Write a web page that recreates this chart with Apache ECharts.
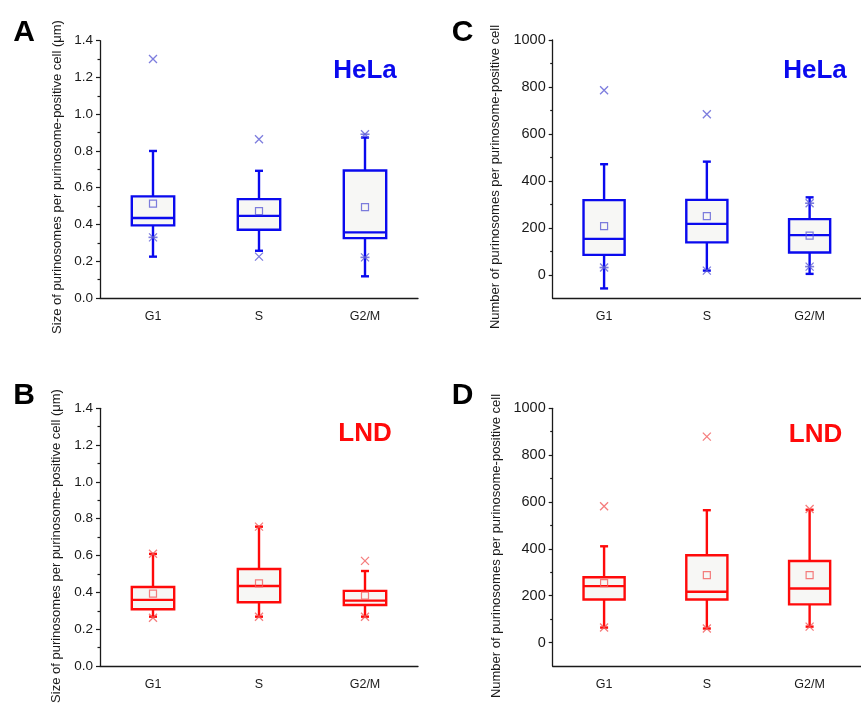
<!DOCTYPE html>
<html>
<head>
<meta charset="utf-8">
<script src="https://cdn.jsdelivr.net/npm/echarts@6/dist/echarts.min.js"></script>
<style>
  html, body { margin: 0; padding: 0; background: #fff; }
  #chart { width: 861px; height: 717px; }
</style>
</head>
<body>
<div id="chart"></div>
<script>
const categories = ['G1', 'S', 'G2/M']
const countTicks = [0, 200, 400, 600, 800, 1000]
const countMinorTicks = [100, 300, 500, 700, 900]

// box = [whisker low, Q1, median, Q3, whisker high]
const helaSizeBox = [[0.225, 0.395, 0.435, 0.553, 0.80], [0.257, 0.371, 0.447, 0.538, 0.692], [0.118, 0.326, 0.357, 0.694, 0.873]]
const helaSizeMean = [0.513, 0.473, 0.495]
const helaSizeCross = [[1.30, 0.33], [0.864, 0.225], [0.891, 0.221]]
const helaSizeDash = [[0.33], [], [0.891, 0.221]]

const lndSizeBox = [[0.268, 0.308, 0.359, 0.429, 0.609], [0.268, 0.346, 0.435, 0.527, 0.757], [0.268, 0.331, 0.355, 0.408, 0.516]]
const lndSizeMean = [0.393, 0.449, 0.382]
const lndSizeCross = [[0.61, 0.262], [0.757, 0.268], [0.571, 0.268]]
const lndSizeDash = [[], [], []]

const helaCountBox = [[-58, 85, 153, 318, 471], [18, 138, 217, 319, 482], [4, 95, 169, 237, 330]]
const helaCountMean = [207, 250, 167]
const helaCountCross = [[786, 31], [684, 18], [305, 35]]
const helaCountDash = [[31], [], [305, 35]]

const lndCountBox = [[64, 184, 241, 279, 411], [60, 184, 217, 373, 565], [68, 163, 231, 348, 567]]
const lndCountMean = [254, 288, 288]
const lndCountCross = [[582, 64], [879, 60], [570, 68]]
const lndCountDash = [[], [], []]

const BLUE = '#0a0aee'
const BLUE_MARK = '#5c5cd6'
const RED = '#ff0a0a'
const RED_MARK = '#f25c5c'
const FONT = 'Arial, "Liberation Sans", sans-serif'

function renderBox (color) {
  return function (params, api) {
    const i = api.value(0)
    const lo = api.coord([i, api.value(1)])
    const q1 = api.coord([i, api.value(2)])
    const md = api.coord([i, api.value(3)])
    const q3 = api.coord([i, api.value(4)])
    const hi = api.coord([i, api.value(5)])
    const hw = api.size([1, 0])[0] * 0.2
    const cw = 4
    const cx = lo[0]
    const ls = { stroke: color, lineWidth: 2.4 }
    return {
      type: 'group',
      children: [
        { type: 'line', shape: { x1: cx, y1: q3[1], x2: cx, y2: hi[1] }, style: ls },
        { type: 'line', shape: { x1: cx, y1: q1[1], x2: cx, y2: lo[1] }, style: ls },
        { type: 'line', shape: { x1: cx - cw, y1: hi[1], x2: cx + cw, y2: hi[1] }, style: ls },
        { type: 'line', shape: { x1: cx - cw, y1: lo[1], x2: cx + cw, y2: lo[1] }, style: ls },
        { type: 'rect', shape: { x: cx - hw, y: q3[1], width: 2 * hw, height: q1[1] - q3[1] }, style: { fill: '#f7f7f5', stroke: color, lineWidth: 2.4 } },
        { type: 'line', shape: { x1: cx - hw, y1: md[1], x2: cx + hw, y2: md[1] }, style: ls }
      ]
    }
  }
}

function points (lists) {
  const out = []
  lists.forEach((vals, i) => vals.forEach(v => out.push([i, v])))
  return out
}

function panelSeries (gi, yi, box, mean, cross, dash, color, mark) {
  return [
    {
      type: 'custom',
      xAxisIndex: gi,
      yAxisIndex: yi,
      renderItem: renderBox(color),
      encode: { x: 0, y: [1, 2, 3, 4, 5] },
      data: box.map((b, i) => [i].concat(b)),
      z: 2
    },
    {
      type: 'scatter',
      xAxisIndex: gi,
      yAxisIndex: yi,
      symbol: 'rect',
      symbolSize: 7,
      itemStyle: { color: 'rgba(0,0,0,0)', borderColor: mark, borderWidth: 1.2 },
      data: mean.map((v, i) => [i, v]),
      z: 4
    },
    {
      type: 'scatter',
      xAxisIndex: gi,
      yAxisIndex: yi,
      symbol: 'path://M0,0L10,10M10,0L0,10',
      symbolSize: 8,
      itemStyle: { color: 'rgba(0,0,0,0)', borderColor: mark, borderWidth: 1.3 },
      data: points(cross),
      z: 5
    },
    {
      type: 'scatter',
      xAxisIndex: gi,
      yAxisIndex: yi,
      symbol: 'rect',
      symbolSize: [9, 1.6],
      itemStyle: { color: mark },
      data: points(dash),
      z: 5
    }
  ]
}

const grids = [
  { left: 100, top: 40.7, width: 318, height: 257.3 },
  { left: 100, top: 408.3, width: 318, height: 257.7 },
  { left: 552.7, top: 40, width: 318, height: 258.3 },
  { left: 552.7, top: 408.3, width: 318, height: 257.7 }
]

const axisLine = { show: true, onZero: false, lineStyle: { color: '#1a1a1a', width: 1.3 } }

const xAxes = grids.map((g, i) => ({
  type: 'category',
  gridIndex: i,
  data: categories,
  boundaryGap: true,
  axisLine: axisLine,
  axisTick: { show: false },
  axisLabel: { color: '#1a1a1a', fontSize: 12.5, fontFamily: FONT, margin: 12 },
  splitLine: { show: false }
}))

function sizeAxis (gi) {
  return {
    type: 'value',
    gridIndex: gi,
    min: 0,
    max: 1.4,
    interval: 0.2,
    axisLine: axisLine,
    axisTick: { show: true, length: 4, lineStyle: { color: '#1a1a1a', width: 1.2 } },
    minorTick: { show: true, splitNumber: 2, length: 2.5, lineStyle: { color: '#1a1a1a', width: 1.2 } },
    axisLabel: { color: '#1a1a1a', fontSize: 13.5, fontFamily: FONT, margin: 7, formatter: v => v.toFixed(1) },
    splitLine: { show: false },
    minorSplitLine: { show: false }
  }
}

function countAxis (gi) {
  return {
    type: 'value',
    gridIndex: gi,
    min: -100,
    max: 1000,
    axisLine: axisLine,
    axisTick: { show: true, length: 4, customValues: countTicks, lineStyle: { color: '#1a1a1a', width: 1.2 } },
    axisLabel: { color: '#1a1a1a', fontSize: 14.5, fontFamily: FONT, margin: 7, customValues: countTicks, formatter: v => String(v) },
    splitLine: { show: false }
  }
}

function countMinorAxis (gi) {
  return {
    type: 'value',
    gridIndex: gi,
    position: 'left',
    min: -100,
    max: 1000,
    axisLine: { show: false },
    axisTick: { show: true, length: 2.5, customValues: countMinorTicks, lineStyle: { color: '#1a1a1a', width: 1.2 } },
    axisLabel: { show: false },
    splitLine: { show: false }
  }
}

const yAxes = [sizeAxis(0), sizeAxis(1), countAxis(2), countMinorAxis(2), countAxis(3), countMinorAxis(3)]

function label (text, x, y, size, color, rot) {
  return {
    type: 'text',
    x: x,
    y: y,
    rotation: rot || 0,
    style: {
      text: text,
      fill: color,
      font: (size > 16 ? 'bold ' : '') + size + 'px ' + FONT,
      align: 'center',
      verticalAlign: 'middle'
    },
    z: 10
  }
}

const sizeTitle = 'Size of purinosomes per purinosome-positive cell (μm)'
const countTitle = 'Number of purinosomes per purinosome-positive cell'

const chart = echarts.init(document.getElementById('chart'))
chart.setOption({
  backgroundColor: '#ffffff',
  animation: false,
  grid: grids,
  xAxis: xAxes,
  yAxis: yAxes,
  graphic: [
    label('A', 24, 33, 30, '#000'),
    label('B', 24, 396, 30, '#000'),
    label('C', 462.5, 33, 30, '#000'),
    label('D', 462.5, 396, 30, '#000'),
    label('HeLa', 365, 71, 26, BLUE),
    label('HeLa', 815, 71, 26, BLUE),
    label('LND', 365, 434, 26, RED),
    label('LND', 815.5, 435, 26, RED),
    label(sizeTitle, 57, 177, 13, '#1a1a1a', Math.PI / 2),
    label(sizeTitle, 56, 546, 13, '#1a1a1a', Math.PI / 2),
    label(countTitle, 495, 177, 13, '#1a1a1a', Math.PI / 2),
    label(countTitle, 496, 546, 13, '#1a1a1a', Math.PI / 2)
  ],
  series: [].concat(
    panelSeries(0, 0, helaSizeBox, helaSizeMean, helaSizeCross, helaSizeDash, BLUE, BLUE_MARK),
    panelSeries(1, 1, lndSizeBox, lndSizeMean, lndSizeCross, lndSizeDash, RED, RED_MARK),
    panelSeries(2, 2, helaCountBox, helaCountMean, helaCountCross, helaCountDash, BLUE, BLUE_MARK),
    panelSeries(3, 4, lndCountBox, lndCountMean, lndCountCross, lndCountDash, RED, RED_MARK)
  )
})
</script>
</body>
</html>
